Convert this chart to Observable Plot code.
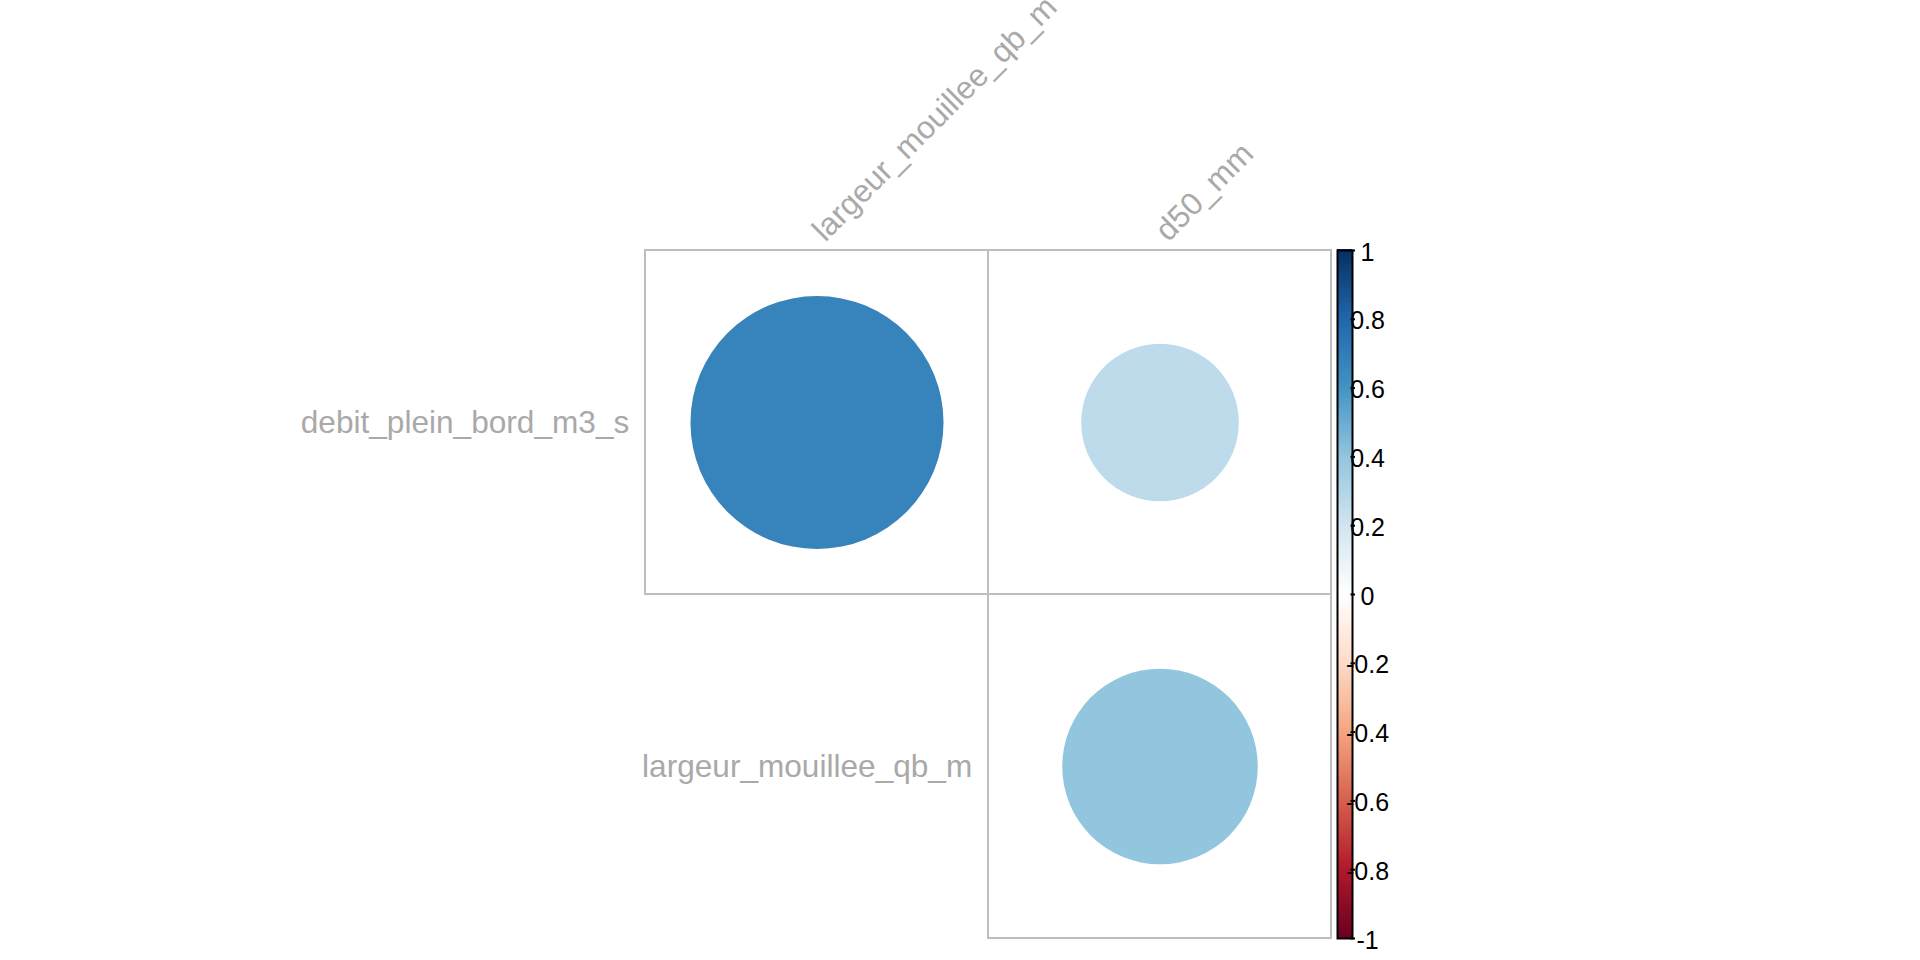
<!DOCTYPE html>
<html>
<head>
<meta charset="utf-8">
<script src="https://cdn.jsdelivr.net/npm/d3@7"></script>
<script src="https://cdn.jsdelivr.net/npm/@observablehq/plot@0.6"></script>
<style>
  html, body { margin: 0; padding: 0; background: #fff; }
  #wrap { position: relative; width: 1920px; height: 960px; overflow: hidden; }
  #wrap svg { position: absolute; left: 0; top: 0; }
</style>
</head>
<body>
<div id="wrap"></div>
<script>
// ---- data ----
const rowVars = ["debit_plein_bord_m3_s", "largeur_mouillee_qb_m"];
const colVars = ["largeur_mouillee_qb_m", "d50_mm"];
const pairRow = ["debit_plein_bord_m3_s", "debit_plein_bord_m3_s", "largeur_mouillee_qb_m"];
const pairCol = ["largeur_mouillee_qb_m", "d50_mm", "d50_mm"];
const corrValues = [0.67, 0.26, 0.40];
const legendTicks = [1, 0.8, 0.6, 0.4, 0.2, 0, -0.2, -0.4, -0.6, -0.8, -1];
const legendTickLabels = ["1", "0.8", "0.6", "0.4", "0.2", "0", "-0.2", "-0.4", "-0.6", "-0.8", "-1"];
const colorStops = [-1, -0.8, -0.6, -0.4, -0.2, 0, 0.2, 0.4, 0.6, 0.8, 1];
const colorRange = ["#67001F", "#B2182B", "#D6604D", "#F4A582", "#FDDBC7", "#FFFFFF",
                    "#D1E5F0", "#92C5DE", "#4393C3", "#2166AC", "#053061"];

const pairs = corrValues.map((v, i) => ({row: pairRow[i], col: pairCol[i], value: v}));
const rowLabels = rowVars.map(r => ({row: r, col: pairs.find(p => p.row === r).col}));

const W = 1920, H = 960;
const gridLeft = 644, gridRight = 1331, gridTop = 250, gridBottom = 938;
const cellSize = (gridRight - gridLeft) / colVars.length;
const font = "Liberation Sans, Arial, sans-serif";
const labelGrey = "#A9A9A9";

const colorScale = {type: "linear", domain: colorStops, range: colorRange, interpolate: "rgb"};

const main = Plot.plot({
  width: W, height: H,
  marginLeft: gridLeft, marginRight: W - gridRight,
  marginTop: gridTop, marginBottom: H - gridBottom,
  style: {fontFamily: font, background: "transparent", overflow: "visible"},
  x: {type: "band", domain: colVars, padding: 0, axis: null},
  y: {type: "band", domain: rowVars, padding: 0, axis: null},
  r: {type: "sqrt", domain: [0, 1], range: [0, 0.45 * cellSize]},
  color: colorScale,
  marks: [
    Plot.cell(pairs, {x: "col", y: "row", fill: "none", stroke: "#BEBEBE", strokeWidth: 2, inset: 0}),
    Plot.dot(pairs, {x: "col", y: "row", r: d => Math.abs(d.value), fill: "value", stroke: "none"}),
    Plot.text(rowLabels, {x: "col", y: "row", text: "row", textAnchor: "end",
      dx: -(cellSize / 2 + 16), fontSize: 31.6, fill: labelGrey}),
    Plot.text(colVars, {x: d => d, frameAnchor: "top", text: d => d, rotate: -45,
      textAnchor: "start", lineAnchor: "middle", dx: 1, dy: -15, fontSize: 31.6, fill: labelGrey})
  ]
});

const binEdges = d3.range(0, 200).map(i => -1 + i * 0.01);
const bar = Plot.plot({
  width: W, height: H,
  marginLeft: 1337, marginRight: W - 1352,
  marginTop: gridTop, marginBottom: H - gridBottom,
  style: {fontFamily: font, background: "transparent", overflow: "visible"},
  x: {domain: [0, 1], axis: null},
  y: {domain: [-1, 1], axis: null},
  color: colorScale,
  marks: [
    Plot.rect(binEdges, {x1: 0, x2: 1, y1: d => d, y2: d => d + 0.012, fill: d => d + 0.005,
      shapeRendering: "crispEdges"}),
    Plot.frame({stroke: "black", strokeWidth: 2}),
    Plot.ruleY(legendTicks, {x1: 0.9, x2: 1.2, stroke: "black", strokeWidth: 2}),
    Plot.text(legendTicks, {x: 1, y: d => d, text: (d, i) => legendTickLabels[i],
      dx: 15, dy: 2, textAnchor: "middle", fontSize: 25, fill: "black"})
  ]
});

const wrap = document.getElementById("wrap");
wrap.appendChild(main);
wrap.appendChild(bar);
</script>
</body>
</html>
